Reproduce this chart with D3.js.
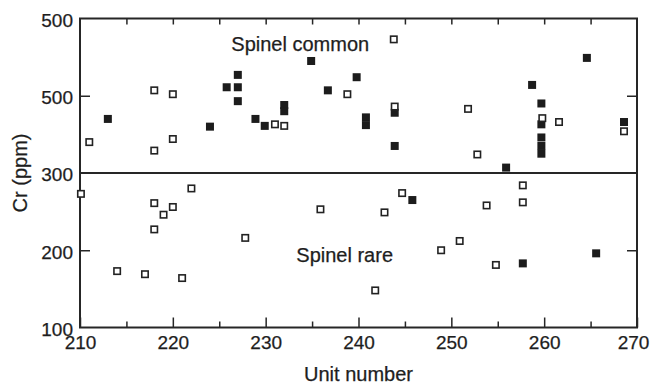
<!DOCTYPE html>
<html>
<head>
<meta charset="utf-8">
<script src="https://cdn.jsdelivr.net/npm/d3@7"></script>
<style>
	body { margin: 0; background: #fff; }
	text { font-family: "Liberation Sans", Arial, Helvetica, sans-serif; fill: #1e1e1e; stroke: #1e1e1e; stroke-width: 0.25px; }
</style>
</head>
<body>
<div id="wrapper"></div>
<script>

// 1. Data

const openUnits = [211, 218, 218, 220, 220, 231, 232, 238.8, 243.8, 243.9, 251.8, 252.8, 259.8, 261.6, 268.6,
	210.1, 214, 217, 218, 218, 219, 220, 221, 222, 227.8, 235.9, 241.8, 242.8, 244.7, 248.9, 250.9, 253.8, 254.8, 257.7, 257.7];
const openCr = [340, 407, 329, 402, 344, 363, 361, 402, 473, 386, 383, 324, 371, 366, 354,
	273, 173, 169, 261, 227, 246, 256, 164, 280, 216, 253, 148, 249, 274, 200, 212, 258, 181, 284, 262];

const filledUnits = [213, 224, 225.8, 227, 227, 227, 228.9, 229.9, 232, 232, 234.9, 236.7, 239.8, 240.8, 240.8,
	243.9, 243.9, 255.9, 258.7, 259.7, 259.7, 259.7, 259.7, 259.7, 264.6, 268.6, 245.8, 257.7, 265.6];
const filledCr = [370, 360, 411, 427, 411, 393, 370, 361, 388, 380, 445, 407, 424, 372, 362,
	378, 335, 307, 414, 390, 363, 346, 335, 325, 449, 366, 265, 183, 196];

const xTicks = [210, 220, 230, 240, 250, 260, 270];
const yTicks = [100, 200, 300, 400, 500];
const yTickLabels = ["100", "200", "300", "500", "500"];
const divider = 300;

// 2. Dimensions

let dimensions = {
	width: 651,
	height: 385,
	margin: { top: 18.5, right: 14, bottom: 57.5, left: 80 }
};
dimensions.boundedWidth = dimensions.width - dimensions.margin.left - dimensions.margin.right;
dimensions.boundedHeight = dimensions.height - dimensions.margin.top - dimensions.margin.bottom;

const ink = "#262626";

const wrapper = d3.select("#wrapper")
	.append("svg")
	.attr("width", dimensions.width)
	.attr("height", dimensions.height);

const bounds = wrapper.append("g")
	.attr("transform", `translate(${dimensions.margin.left}, ${dimensions.margin.top})`);

// 3. Scales

const xScale = d3.scaleLinear().domain([210, 270]).range([0, dimensions.boundedWidth]);
const yScale = d3.scaleLinear().domain([100, 500]).range([dimensions.boundedHeight, 0]);

// 4. Axes (ticks point inward)

const minorX = d3.range(215, 270, 10);

bounds.append("g")
	.attr("transform", `translate(0, ${dimensions.boundedHeight})`)
	.call(d3.axisBottom(xScale).tickValues(xTicks).tickSize(-10).tickPadding(8).tickFormat(d3.format("d")))
	.call(g => g.select(".domain").remove())
	.call(g => g.selectAll("line").attr("stroke", ink).attr("stroke-width", 1.5))
	.call(g => g.selectAll("text").attr("font-size", 19).attr("dy", "0.72em")
		.attr("dx", d => d === 270 ? -4 : 0));

bounds.append("g")
	.attr("transform", `translate(0, ${dimensions.boundedHeight})`)
	.call(d3.axisBottom(xScale).tickValues(minorX).tickSize(-6).tickFormat(""))
	.call(g => g.select(".domain").remove())
	.call(g => g.selectAll("line").attr("stroke", ink).attr("stroke-width", 1.5));

bounds.append("g")
	.call(d3.axisTop(xScale).tickValues(d3.range(215, 270, 5)).tickSize(-6).tickFormat(""))
	.call(g => g.select(".domain").remove())
	.call(g => g.selectAll("line").attr("stroke", ink).attr("stroke-width", 1.5));

bounds.append("g")
	.call(d3.axisLeft(yScale).tickValues(yTicks).tickSize(0).tickPadding(7)
		.tickFormat((d, i) => yTickLabels[i]))
	.call(g => g.select(".domain").remove())
	.call(g => g.selectAll("text").attr("font-size", 19).attr("dy", "0.42em"));

bounds.append("g")
	.call(d3.axisLeft(yScale).tickValues([200, 400]).tickSize(-10).tickFormat(""))
	.call(g => g.select(".domain").remove())
	.call(g => g.selectAll("line").attr("stroke", ink).attr("stroke-width", 1.5));

bounds.append("g")
	.attr("transform", `translate(${dimensions.boundedWidth}, 0)`)
	.call(d3.axisRight(yScale).tickValues([200, 400]).tickSize(-10).tickFormat(""))
	.call(g => g.select(".domain").remove())
	.call(g => g.selectAll("line").attr("stroke", ink).attr("stroke-width", 1.5));

// frame
bounds.append("rect")
	.attr("width", dimensions.boundedWidth)
	.attr("height", dimensions.boundedHeight)
	.attr("fill", "none")
	.attr("stroke", ink)
	.attr("stroke-width", 2);

// divider at 300 ppm
bounds.append("line")
	.attr("x1", 0)
	.attr("x2", dimensions.boundedWidth)
	.attr("y1", yScale(divider))
	.attr("y2", yScale(divider))
	.attr("stroke", ink)
	.attr("stroke-width", 2.2);

// 5. Points

const size = 8;

bounds.selectAll(".filled")
	.data(d3.zip(filledUnits, filledCr))
	.join("rect")
	.attr("class", "filled")
	.attr("x", d => xScale(d[0]) - size / 2)
	.attr("y", d => yScale(d[1]) - size / 2)
	.attr("width", size)
	.attr("height", size)
	.attr("fill", "#1c1c1c");

bounds.selectAll(".open")
	.data(d3.zip(openUnits, openCr))
	.join("rect")
	.attr("class", "open")
	.attr("x", d => xScale(d[0]) - (size - 1.6) / 2)
	.attr("y", d => yScale(d[1]) - (size - 1.6) / 2)
	.attr("width", size - 1.6)
	.attr("height", size - 1.6)
	.attr("fill", "#fff")
	.attr("stroke", "#222")
	.attr("stroke-width", 1.6);

// 6. Labels

bounds.append("text")
	.attr("x", xScale(226.3))
	.attr("y", 32)
	.attr("font-size", 20)
	.text("Spinel common");

bounds.append("text")
	.attr("x", xScale(233.3))
	.attr("y", 243.5)
	.attr("font-size", 20)
	.text("Spinel rare");

wrapper.append("text")
	.attr("x", dimensions.margin.left + dimensions.boundedWidth / 2)
	.attr("y", 381)
	.attr("text-anchor", "middle")
	.attr("font-size", 20)
	.text("Unit number");

wrapper.append("text")
	.attr("transform", `translate(27, ${yScale(300) + dimensions.margin.top}) rotate(-90)`)
	.attr("text-anchor", "middle")
	.attr("font-size", 20)
	.text("Cr (ppm)");

</script>
</body>
</html>
